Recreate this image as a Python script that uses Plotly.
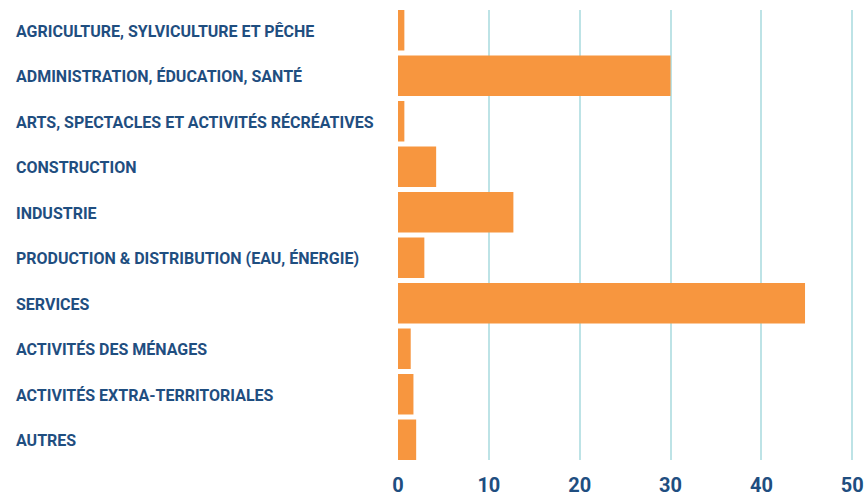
import plotly.graph_objects as go

# Employment share by sector (%)
categories = [
    "AGRICULTURE, SYLVICULTURE ET PÊCHE",
    "ADMINISTRATION, ÉDUCATION, SANTÉ",
    "ARTS, SPECTACLES ET ACTIVITÉS RÉCRÉATIVES",
    "CONSTRUCTION",
    "INDUSTRIE",
    "PRODUCTION & DISTRIBUTION (EAU, ÉNERGIE)",
    "SERVICES",
    "ACTIVITÉS DES MÉNAGES",
    "ACTIVITÉS EXTRA-TERRITORIALES",
    "AUTRES",
]
values = [0.7, 30.0, 0.7, 4.2, 12.7, 2.9, 44.8, 1.4, 1.7, 2.0]
x_ticks = [0, 10, 20, 30, 40, 50]

BAR = "#F7963F"
TEXT = "#1F4E80"
GRID = "#BDE3E6"
FONT = "Roboto, sans-serif"

W, H = 864, 498
ML, MR, MT, MB = 398, 9, 10, 38
X_MAX = 50.3
plot_w = W - ML - MR

fig = go.Figure(
    go.Bar(
        x=values,
        y=categories,
        orientation="h",
        marker=dict(color=BAR, line=dict(width=0)),
        hoverinfo="x+y",
    )
)

# left-aligned category labels
label_x = (14 - ML) / plot_w
for cat in categories:
    fig.add_annotation(
        x=label_x, xref="paper", y=cat, yref="y",
        text=f"<b>{cat}</b>", showarrow=False,
        xanchor="left", yanchor="middle", yshift=-1,
        font=dict(family=FONT, size=16, color=TEXT),
    )

gap = 0.11
n = len(categories)
fig.update_layout(
    width=W, height=H,
    margin=dict(l=ML, r=MR, t=MT, b=MB),
    paper_bgcolor="white", plot_bgcolor="white",
    bargap=gap,
    showlegend=False,
    xaxis=dict(
        range=[0, X_MAX],
        tickvals=x_ticks,
        ticktext=[f"<b>{v}</b>" for v in x_ticks],
        tickfont=dict(family=FONT, size=20, color=TEXT),
        ticklabeloverflow="allow",
        showgrid=True, gridcolor=GRID, gridwidth=1.5,
        zeroline=False, showline=False, ticks="",
        ticklabelstandoff=11,
        automargin=False,
    ),
    yaxis=dict(
        range=[n - 0.5 - gap / 2, -0.5 + gap / 2],
        showticklabels=False,
        showgrid=False, zeroline=False, showline=False, ticks="",
        automargin=False,
    ),
)

fig.write_html("out.html")
